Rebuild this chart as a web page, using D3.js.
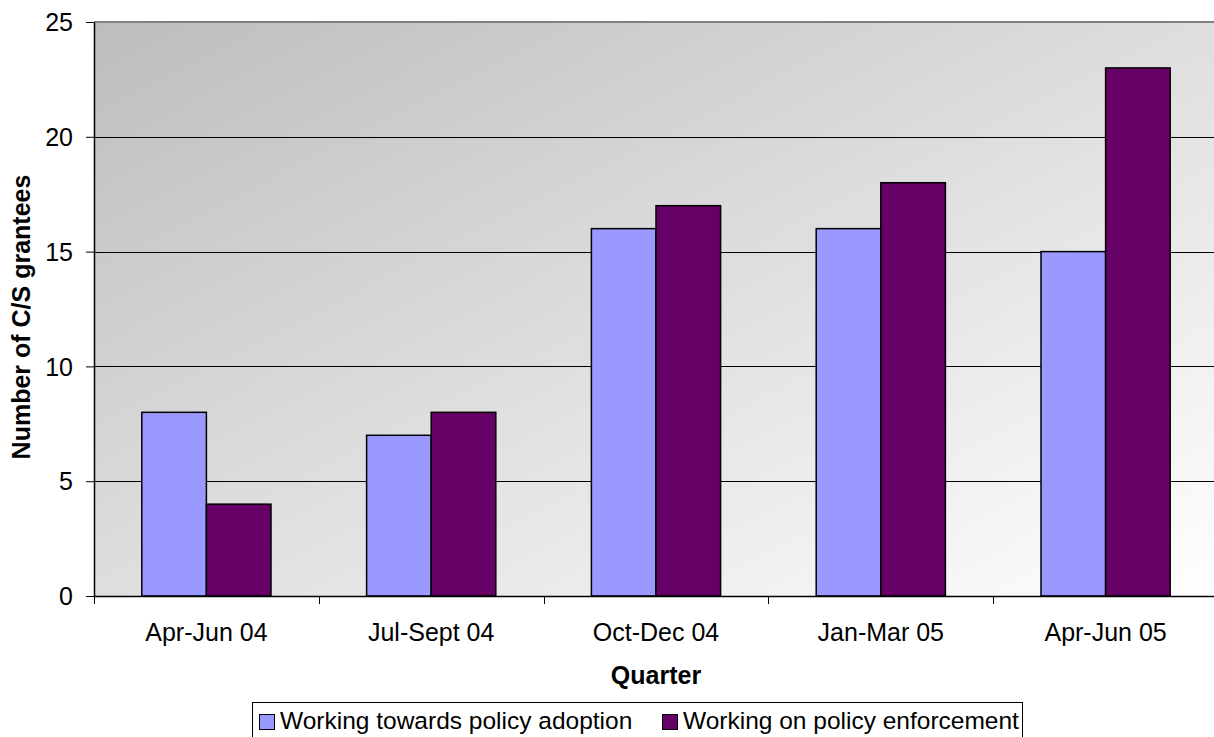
<!DOCTYPE html>
<html>
<head>
<meta charset="utf-8">
<script src="https://cdn.jsdelivr.net/npm/d3@7"></script>
<style>
  body { margin: 0; background: #fff; }
  svg text { font-family: "Liberation Sans", Arial, sans-serif; fill: #000; }
</style>
</head>
<body>
<div id="chartArea"></div>
<script>
// Chart data
const quarters = ["Apr-Jun 04", "Jul-Sept 04", "Oct-Dec 04", "Jan-Mar 05", "Apr-Jun 05"];
const seriesNames = ["Working towards policy adoption", "Working on policy enforcement"];
const adoptionValues = [8, 7, 16, 16, 15];
const enforcementValues = [4, 8, 17, 18, 23];
const yTicks = [0, 5, 10, 15, 20, 25];
const colors = ["#9999FF", "#660066"];

const width = 1214;
const height = 737;
const margin = { top: 22, right: -4, bottom: 141, left: 94 };

const svg = d3.select("#chartArea")
  .append("svg")
  .attr("width", width)
  .attr("height", height);

// background gradient
const defs = svg.append("defs");
const grad = defs.append("linearGradient")
  .attr("id", "bg")
  .attr("x1", 0).attr("y1", 0).attr("x2", 1).attr("y2", 1);
grad.append("stop").attr("offset", "0%").attr("stop-color", "#bdbdbd");
grad.append("stop").attr("offset", "100%").attr("stop-color", "#ffffff");

const x0 = d3.scaleBand()
  .domain(quarters)
  .range([margin.left, width - margin.right])
  .paddingInner(0)
  .paddingOuter(0);

const x1 = d3.scaleBand()
  .domain(seriesNames)
  .range([0, x0.bandwidth()])
  .paddingInner(0)
  .paddingOuter(0.74);

const y = d3.scaleLinear()
  .domain([0, 25])
  .range([height - margin.bottom, margin.top]);

// plot area
svg.append("rect")
  .attr("x", margin.left)
  .attr("y", margin.top)
  .attr("width", width - margin.right - margin.left)
  .attr("height", y(0) - margin.top)
  .attr("fill", "url(#bg)");

// gridlines
svg.append("g")
  .selectAll("line")
  .data(yTicks.filter((d) => d > 0 && d < 25))
  .join("line")
  .attr("x1", margin.left)
  .attr("x2", width - margin.right)
  .attr("y1", (d) => Math.round(y(d)) + 0.5)
  .attr("y2", (d) => Math.round(y(d)) + 0.5)
  .attr("stroke", "#000")
  .attr("stroke-width", 1);

// top border
svg.append("line")
  .attr("x1", margin.left)
  .attr("x2", width - margin.right)
  .attr("y1", y(25))
  .attr("y2", y(25))
  .attr("stroke", "#808080")
  .attr("stroke-width", 2);

// bars
const rows = quarters.map((q, i) => ({ q, vals: [adoptionValues[i], enforcementValues[i]] }));
svg.append("g")
  .selectAll("g")
  .data(rows)
  .join("g")
  .attr("transform", (d) => `translate(${x0(d.q)},0)`)
  .selectAll("rect")
  .data((d) => d.vals.map((v, j) => ({ name: seriesNames[j], v, j })))
  .join("rect")
  .attr("x", (d) => x1(d.name))
  .attr("y", (d) => y(d.v))
  .attr("width", x1.bandwidth())
  .attr("height", (d) => y(0) - y(d.v))
  .attr("fill", (d) => colors[d.j])
  .attr("stroke", "#000")
  .attr("stroke-width", 1.5);

// Y-axis
const yAxis = svg.append("g")
  .attr("transform", `translate(${margin.left}, 0)`)
  .call(d3.axisLeft(y).tickValues(yTicks).tickSize(8).tickSizeOuter(0).tickFormat(d3.format("d")));
yAxis.select(".domain").attr("stroke", "#000").attr("stroke-width", 1.5);
yAxis.selectAll(".tick line").attr("stroke", "#000");
yAxis.selectAll("text")
  .style("font-size", "25px")
  .attr("x", -21)
  .attr("dy", "0.35em");

// X-axis
const xAxis = svg.append("g")
  .attr("transform", `translate(0, ${y(0)})`)
  .call(d3.axisBottom(x0).tickSize(0).tickSizeOuter(0));
xAxis.select(".domain").attr("stroke", "#000").attr("stroke-width", 1.5);
xAxis.selectAll("text")
  .style("font-size", "25px")
  .attr("y", 45)
  .attr("dy", 0);

// category boundary ticks
svg.append("g")
  .selectAll("line")
  .data(quarters)
  .join("line")
  .attr("x1", (d) => Math.round(x0(d)) + 0.5)
  .attr("x2", (d) => Math.round(x0(d)) + 0.5)
  .attr("y1", y(0))
  .attr("y2", y(0) + 8)
  .attr("stroke", "#000");

// axis titles
svg.append("text")
  .attr("x", (margin.left + width - margin.right) / 2)
  .attr("y", 684)
  .attr("text-anchor", "middle")
  .style("font-size", "25px")
  .style("font-weight", "bold")
  .text("Quarter");

svg.append("text")
  .attr("transform", "translate(30, 317) rotate(-90)")
  .attr("text-anchor", "middle")
  .style("font-size", "25px")
  .style("font-weight", "bold")
  .text("Number of C/S grantees");

// legend
const legend = svg.append("g");
legend.append("rect")
  .attr("x", 252.5)
  .attr("y", 702.5)
  .attr("width", 770)
  .attr("height", 40)
  .attr("fill", "#fff")
  .attr("stroke", "#000");

const legendX = [259, 662];
seriesNames.forEach((name, i) => {
  legend.append("rect")
    .attr("x", legendX[i] + 0.5)
    .attr("y", 714.5)
    .attr("width", 15)
    .attr("height", 15)
    .attr("fill", colors[i])
    .attr("stroke", "#000");
  legend.append("text")
    .attr("x", legendX[i] + 21)
    .attr("y", 729)
    .style("font-size", "24.5px")
    .text(name);
});
</script>
</body>
</html>
